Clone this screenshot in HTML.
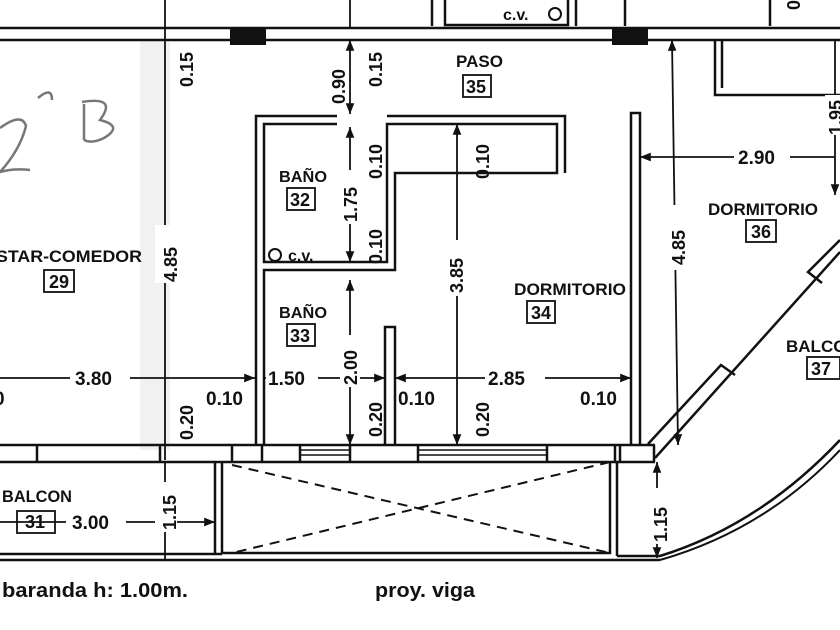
<!DOCTYPE html>
<html><head><meta charset="utf-8"><style>
html,body{margin:0;padding:0;background:#fff;}
svg{display:block;}
text{font-family:"Liberation Sans",sans-serif;font-weight:bold;fill:#111;}
</style></head><body>
<svg width="840" height="630" viewBox="0 0 840 630" xmlns="http://www.w3.org/2000/svg">
<defs>
<marker id="a" viewBox="0 0 10 10" refX="10" refY="5" markerWidth="6" markerHeight="6" orient="auto-start-reverse"><path d="M0,1 L10,5 L0,9z" fill="#111"/></marker>
</defs>
<rect width="840" height="630" fill="#fff"/>
<rect x="140" y="40" width="30" height="410" fill="#e8e8e8" opacity="0.6"/>
<g stroke="#111" fill="none" stroke-width="2.5">
<line x1="0" y1="28" x2="840" y2="28"/>
<line x1="0" y1="40" x2="840" y2="40"/>
<line x1="432" y1="0" x2="432" y2="26"/>
<path d="M445,0 V25 H568 V0"/>
<line x1="576" y1="0" x2="576" y2="26"/>
<line x1="625" y1="0" x2="625" y2="26"/>
<line x1="770" y1="0" x2="770" y2="26"/>
<path d="M337,116 H256 V445"/>
<path d="M337,124 H264 V262 H387 V124 H557 V173 H395 V270 H264 V445"/>
<path d="M387,116 H565 V173"/>
<path d="M385,445 V327 H395 V445"/>
<path d="M631,445 V113 H640 V445"/>
<line x1="0" y1="445" x2="655" y2="445"/>
<line x1="0" y1="462" x2="655" y2="462"/>
<path d="M37,445 V462 M160,445 V462 M232,445 V462 M262,445 V462 M300,445 V462 M350,445 V462 M418,445 V462 M547,445 V462 M615,445 V462 M620,445 V462 M654,445 V462"/>
<path d="M300,450 H350 M300,455 H350 M418,450 H547 M418,455 H547" stroke-width="1.5"/>
<path d="M215,462 V555 M222,462 V553 H610 V462 M617,462 V556"/>
<line x1="0" y1="554" x2="222" y2="554"/>
<line x1="0" y1="560" x2="660" y2="560"/>
<path d="M617,556 H660 Q760,525 840,440" />
<path d="M660,560 Q765,530 840,450" stroke-width="2"/>
<path d="M232,465 L610,553 M610,462 L232,553" stroke-dasharray="10,7" stroke-width="2"/>
<path d="M648,444 L721,365 L735,375"/>
<path d="M655,458 L840,252"/>
<path d="M822,283 L808,272 L840,240"/>
<path d="M715,40 V95 H840 M722,40 V88"/>
</g>
<rect x="230" y="27" width="36" height="18" fill="#111"/>
<rect x="612" y="27" width="36" height="18" fill="#111"/>
<circle cx="555" cy="14" r="6" fill="none" stroke="#111" stroke-width="2"/>
<circle cx="275" cy="255" r="6" fill="none" stroke="#111" stroke-width="2"/>
<g stroke="#111" stroke-width="1.8" fill="none">
<line x1="165" y1="0" x2="165" y2="460"/>
<line x1="165" y1="462" x2="165" y2="560"/>
<line x1="350" y1="40" x2="350" y2="114" marker-start="url(#a)" marker-end="url(#a)"/>
<line x1="350" y1="127" x2="350" y2="262" marker-start="url(#a)" marker-end="url(#a)"/>
<line x1="350" y1="280" x2="350" y2="445" marker-start="url(#a)" marker-end="url(#a)"/>
<line x1="350" y1="0" x2="350" y2="27"/>
<line x1="457" y1="124" x2="457" y2="445" marker-start="url(#a)" marker-end="url(#a)"/>
<line x1="0" y1="378" x2="255" y2="378" marker-end="url(#a)"/>
<line x1="265" y1="378" x2="385" y2="378" marker-start="url(#a)" marker-end="url(#a)"/>
<line x1="395" y1="378" x2="631" y2="378" marker-start="url(#a)" marker-end="url(#a)"/>
<line x1="0" y1="522" x2="215" y2="522" marker-end="url(#a)"/>
<line x1="640" y1="157" x2="835" y2="157" marker-start="url(#a)"/>
<line x1="672" y1="40" x2="678" y2="445" marker-start="url(#a)" marker-end="url(#a)"/>
<line x1="835" y1="40" x2="835" y2="195" marker-end="url(#a)"/>
<line x1="657" y1="462" x2="657" y2="558" marker-start="url(#a)" marker-end="url(#a)"/>
</g>
<g fill="#fff">
<rect x="155" y="225" width="22" height="58"/><rect x="340" y="170" width="20" height="54"/>
<rect x="340" y="335" width="20" height="52"/><rect x="447" y="240" width="20" height="56"/>
<rect x="70" y="368" width="60" height="20"/><rect x="266" y="368" width="52" height="20"/>
<rect x="485" y="368" width="60" height="20"/><rect x="66" y="512" width="60" height="20"/>
<rect x="734" y="147" width="56" height="20"/><rect x="663" y="205" width="20" height="65"/>
<rect x="825" y="95" width="20" height="40"/><rect x="155" y="482" width="22" height="50"/>
<rect x="647" y="488" width="20" height="56"/>
</g>
<g font-size="19">
<text x="75" y="385">3.80</text>
<text x="268" y="385">1.50</text>
<text x="488" y="385">2.85</text>
<text x="72" y="529">3.00</text>
<text x="738" y="164">2.90</text>
<text x="206" y="405">0.10</text>
<text x="398" y="405">0.10</text>
<text x="580" y="405">0.10</text>
<text x="-6" y="405">0</text>
</g>
<g font-size="18">
<text transform="translate(177,282) rotate(-90)">4.85</text>
<text transform="translate(193,87) rotate(-90)">0.15</text>
<text transform="translate(193,440) rotate(-90)">0.20</text>
<text transform="translate(176,530) rotate(-90)">1.15</text>
<text transform="translate(345,104) rotate(-90)">0.90</text>
<text transform="translate(382,87) rotate(-90)">0.15</text>
<text transform="translate(357,222) rotate(-90)">1.75</text>
<text transform="translate(382,179) rotate(-90)">0.10</text>
<text transform="translate(382,264) rotate(-90)">0.10</text>
<text transform="translate(357,385) rotate(-90)">2.00</text>
<text transform="translate(382,437) rotate(-90)">0.20</text>
<text transform="translate(463,293) rotate(-90)">3.85</text>
<text transform="translate(489,179) rotate(-90)">0.10</text>
<text transform="translate(489,437) rotate(-90)">0.20</text>
<text transform="translate(685,265) rotate(-90)">4.85</text>
<text transform="translate(667,542) rotate(-90)">1.15</text>
<text transform="translate(842,135) rotate(-90)">1.95</text>
<text transform="translate(800,10) rotate(-90)">0.</text>
</g>
<g font-size="17">
<text x="503" y="20" font-size="16">c.v.</text>
<text x="288" y="261" font-size="16">c.v.</text>
<text x="456" y="67">PASO</text>
<text x="279" y="182" textLength="48" lengthAdjust="spacingAndGlyphs" font-size="16">BAÑO</text>
<text x="279" y="318" textLength="48" lengthAdjust="spacingAndGlyphs" font-size="16">BAÑO</text>
<text x="514" y="295" textLength="112" lengthAdjust="spacingAndGlyphs">DORMITORIO</text>
<text x="708" y="215" textLength="110" lengthAdjust="spacingAndGlyphs">DORMITORIO</text>
<text x="-4" y="262" textLength="146" lengthAdjust="spacingAndGlyphs">STAR-COMEDOR</text>
<text x="2" y="502" textLength="70" lengthAdjust="spacingAndGlyphs">BALCON</text>
<text x="786" y="352">BALCO</text>
</g>
<g fill="none" stroke="#111" stroke-width="1.8">
<rect x="463" y="75" width="28" height="22"/>
<rect x="287" y="188" width="28" height="22"/>
<rect x="287" y="324" width="28" height="22"/>
<rect x="527" y="301" width="28" height="22"/>
<rect x="746" y="220" width="30" height="22"/>
<rect x="44" y="270" width="30" height="22"/>
<rect x="17" y="511" width="38" height="22"/>
<rect x="807" y="357" width="33" height="22"/>
</g>
<g font-size="18" font-weight="normal">
<text x="466" y="93">35</text>
<text x="290" y="206">32</text>
<text x="290" y="342">33</text>
<text x="531" y="319">34</text>
<text x="751" y="238">36</text>
<text x="49" y="288">29</text>
<text x="25" y="528">31</text>
<text x="811" y="375">37</text>
</g>
<text x="2" y="597" font-size="20" textLength="186" lengthAdjust="spacingAndGlyphs">baranda h: 1.00m.</text>
<text x="375" y="597" font-size="20" textLength="100" lengthAdjust="spacingAndGlyphs">proy. viga</text>
<g fill="none" stroke="#777" stroke-width="2.5">
<path d="M0,128 Q22,112 26,126 Q20,150 0,172 Q14,168 30,170"/>
<path d="M38,98 Q52,86 52,100"/>
<path d="M84,104 V140 M82,102 Q118,96 100,120 Q124,126 104,138 Q92,144 84,140"/>
</g>
</svg>
</body></html>
